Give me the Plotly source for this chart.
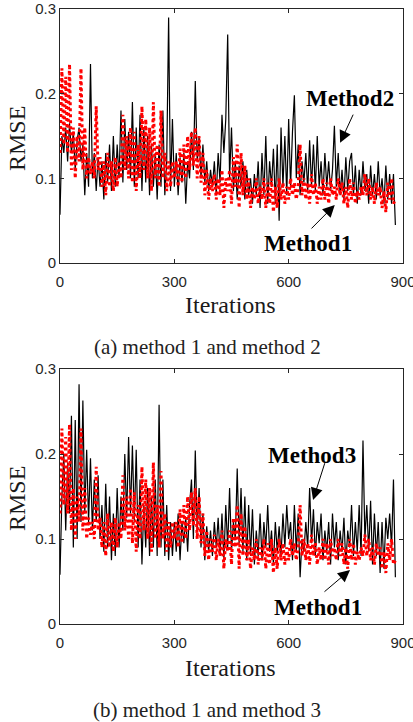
import plotly.graph_objects as go

iterations = list(range(0, 881, 5))

method2 = [
    0.057, 0.15, 0.13, 0.16, 0.12, 0.165, 0.13, 0.155, 0.11, 0.145, 0.16, 0.12, 0.14, 0.08, 0.13, 0.09, 0.235, 0.10, 0.13, 0.085,
    0.125, 0.09, 0.12, 0.075, 0.13, 0.095, 0.14, 0.085, 0.15, 0.09, 0.14, 0.10, 0.18, 0.095, 0.17, 0.11, 0.155, 0.10, 0.19, 0.09,
    0.16, 0.10, 0.175, 0.085, 0.16, 0.095, 0.15, 0.08, 0.14, 0.09, 0.13, 0.075, 0.14, 0.09, 0.18, 0.08, 0.12, 0.29, 0.085, 0.17,
    0.09, 0.13, 0.08, 0.125, 0.095, 0.13, 0.07, 0.12, 0.10, 0.155, 0.11, 0.215, 0.12, 0.15, 0.10, 0.14, 0.095, 0.12, 0.085, 0.11,
    0.09, 0.12, 0.08, 0.13, 0.095, 0.175, 0.13, 0.17, 0.27, 0.10, 0.16, 0.085, 0.12, 0.075, 0.115, 0.09, 0.12, 0.075, 0.11, 0.08,
    0.10, 0.07, 0.105, 0.08, 0.12, 0.065, 0.13, 0.08, 0.15, 0.07, 0.12, 0.09, 0.135, 0.07, 0.14, 0.05, 0.16, 0.09, 0.15, 0.08,
    0.17, 0.09, 0.155, 0.198, 0.10, 0.14, 0.08, 0.12, 0.095, 0.13, 0.085, 0.145, 0.09, 0.14, 0.085, 0.15, 0.09, 0.12, 0.08, 0.13,
    0.09, 0.12, 0.085, 0.11, 0.162, 0.09, 0.13, 0.08, 0.11, 0.075, 0.125, 0.085, 0.12, 0.13, 0.08, 0.115, 0.07, 0.11, 0.08, 0.12,
    0.085, 0.105, 0.07, 0.115, 0.08, 0.105, 0.075, 0.12, 0.08, 0.10, 0.07, 0.115, 0.075, 0.105, 0.07, 0.105, 0.045,
]

method1 = [
    0.13, 0.23, 0.14, 0.22, 0.13, 0.235, 0.11, 0.16, 0.10, 0.15, 0.12, 0.23, 0.11, 0.16, 0.10, 0.125, 0.105, 0.12, 0.10, 0.185,
    0.11, 0.125, 0.09, 0.12, 0.08, 0.13, 0.09, 0.12, 0.085, 0.125, 0.09, 0.12, 0.10, 0.175, 0.11, 0.15, 0.10, 0.16, 0.095, 0.155,
    0.085, 0.14, 0.10, 0.185, 0.11, 0.17, 0.10, 0.16, 0.085, 0.19, 0.10, 0.14, 0.09, 0.18, 0.10, 0.13, 0.085, 0.12, 0.09, 0.12,
    0.10, 0.12, 0.09, 0.135, 0.095, 0.14, 0.10, 0.15, 0.11, 0.155, 0.115, 0.16, 0.10, 0.15, 0.095, 0.13, 0.08, 0.11, 0.075, 0.10,
    0.085, 0.105, 0.075, 0.10, 0.08, 0.11, 0.065, 0.10, 0.085, 0.11, 0.07, 0.125, 0.09, 0.14, 0.065, 0.13, 0.08, 0.115, 0.075, 0.10,
    0.065, 0.09, 0.075, 0.10, 0.07, 0.09, 0.075, 0.10, 0.065, 0.095, 0.07, 0.10, 0.06, 0.09, 0.065, 0.10, 0.075, 0.095, 0.07, 0.09,
    0.075, 0.10, 0.08, 0.095, 0.075, 0.09, 0.14, 0.08, 0.10, 0.075, 0.095, 0.07, 0.105, 0.08, 0.095, 0.07, 0.09, 0.075, 0.10, 0.075,
    0.095, 0.07, 0.10, 0.08, 0.09, 0.075, 0.10, 0.08, 0.095, 0.07, 0.09, 0.065, 0.10, 0.075, 0.095, 0.07, 0.085, 0.075, 0.09, 0.08,
    0.105, 0.08, 0.10, 0.075, 0.09, 0.07, 0.095, 0.08, 0.09, 0.065, 0.085, 0.06, 0.095, 0.075, 0.10, 0.07, 0.075,
]

method3 = [
    0.058, 0.15, 0.20, 0.11, 0.19, 0.13, 0.245, 0.09, 0.24, 0.10, 0.282, 0.12, 0.263, 0.13, 0.205, 0.12, 0.195, 0.11, 0.17, 0.12,
    0.175, 0.10, 0.14, 0.085, 0.165, 0.09, 0.15, 0.075, 0.13, 0.08, 0.16, 0.09, 0.15, 0.11, 0.20, 0.125, 0.22, 0.13, 0.21, 0.12,
    0.205, 0.09, 0.17, 0.07, 0.14, 0.09, 0.16, 0.08, 0.15, 0.09, 0.17, 0.08, 0.258, 0.09, 0.17, 0.08, 0.14, 0.075, 0.12, 0.08,
    0.12, 0.085, 0.13, 0.075, 0.12, 0.095, 0.125, 0.085, 0.14, 0.17, 0.10, 0.204, 0.11, 0.16, 0.09, 0.13, 0.075, 0.115, 0.085, 0.11,
    0.08, 0.12, 0.09, 0.125, 0.08, 0.13, 0.075, 0.14, 0.09, 0.16, 0.085, 0.12, 0.10, 0.183, 0.095, 0.16, 0.085, 0.15, 0.075, 0.14,
    0.08, 0.135, 0.07, 0.11, 0.08, 0.13, 0.075, 0.12, 0.09, 0.14, 0.085, 0.11, 0.07, 0.12, 0.085, 0.115, 0.08, 0.13, 0.09, 0.14,
    0.10, 0.12, 0.075, 0.14, 0.085, 0.13, 0.055, 0.10, 0.085, 0.12, 0.09, 0.16, 0.095, 0.135, 0.08, 0.12, 0.095, 0.13, 0.075, 0.11,
    0.085, 0.12, 0.07, 0.13, 0.09, 0.12, 0.075, 0.11, 0.085, 0.125, 0.07, 0.11, 0.09, 0.14, 0.08, 0.12, 0.085, 0.14, 0.08, 0.216,
    0.10, 0.14, 0.085, 0.145, 0.07, 0.13, 0.08, 0.12, 0.06, 0.12, 0.065, 0.125, 0.10, 0.13, 0.09, 0.17, 0.055,
]

x_ticks = [0, 300, 600, 900]
y_ticks = [0, 0.1, 0.2, 0.3]
y_tick_labels = ["0", "0.1", "0.2", "0.3"]
captions = ["(a) method 1 and method 2", "(b) method 1 and method 3"]

SERIF = "Liberation Serif, Times New Roman, serif"
SANS = "Liberation Sans, Arial, sans-serif"
AXC = "#262626"

fig = go.Figure()

fig.add_trace(go.Scatter(x=iterations, y=method2, mode="lines",
                         line=dict(color="black", width=1.2), xaxis="x", yaxis="y", showlegend=False))
fig.add_trace(go.Scatter(x=iterations, y=method1, mode="lines",
                         line=dict(color="#ff0000", width=3, dash="dot"), xaxis="x", yaxis="y", showlegend=False))
fig.add_trace(go.Scatter(x=iterations, y=method3, mode="lines",
                         line=dict(color="black", width=1.2), xaxis="x2", yaxis="y2", showlegend=False))
fig.add_trace(go.Scatter(x=iterations, y=method1, mode="lines",
                         line=dict(color="#ff0000", width=3, dash="dot"), xaxis="x2", yaxis="y2", showlegend=False))

W, H = 413, 722
xdom = [60 / W, 403 / W]
ydom1 = [1 - 263 / H, 1 - 9 / H]
ydom2 = [1 - 624 / H, 1 - 369 / H]

axis_common = dict(showline=True, linecolor=AXC, linewidth=1, mirror="ticks",
                   ticks="inside", ticklen=4, tickcolor=AXC, showgrid=False, zeroline=False,
                   automargin=False, ticklabeloverflow="allow",
                   tickfont=dict(family=SANS, size=15, color=AXC))

xa = dict(axis_common, range=[0, 900], tickvals=x_ticks, domain=xdom, ticklabelstandoff=5)
ya = dict(axis_common, range=[0, 0.3], tickvals=y_ticks, ticktext=y_tick_labels)

fig.update_layout(
    width=W, height=H,
    margin=dict(l=0, r=0, t=0, b=0),
    plot_bgcolor="white", paper_bgcolor="white",
    xaxis=dict(xa, anchor="y"),
    yaxis=dict(ya, domain=ydom1, anchor="x"),
    xaxis2=dict(xa, anchor="y2"),
    yaxis2=dict(ya, domain=ydom2, anchor="x2"),
)

title_font = dict(family=SERIF, size=24, color="#1a1a1a")
label_font = dict(family=SERIF, size=23, color="black")
C = dict(xanchor="center", yanchor="middle", showarrow=False)
ann = []
# axis titles
for ycen_rmse, ycen_it in [(139, 305), (499, 668)]:
    ann.append(dict(C, x=17 / W, y=1 - ycen_rmse / H, xref="paper", yref="paper", text="RMSE",
                    textangle=-90, font=title_font))
    ann.append(dict(C, x=231 / W, y=1 - ycen_it / H, xref="paper", yref="paper", text="Iterations",
                    font=title_font))
# text labels
ann.append(dict(C, x=760, y=0.194, xref="x", yref="y", text="<b>Method2</b>", font=label_font))
ann.append(dict(C, x=651, y=0.0236, xref="x", yref="y", text="<b>Method1</b>", font=label_font))
ann.append(dict(C, x=662, y=0.1988, xref="x2", yref="y2", text="<b>Method3</b>", font=label_font))
ann.append(dict(C, x=677, y=0.020, xref="x2", yref="y2", text="<b>Method1</b>", font=label_font))
# arrows
arrow_style = dict(text="", showarrow=True, arrowhead=2, arrowsize=2.4, arrowwidth=1, arrowcolor="black")
ann.append(dict(arrow_style, x=735, y=0.142, ax=771, ay=0.177, xref="x", yref="y", axref="x", ayref="y"))
ann.append(dict(arrow_style, x=721, y=0.0685, ax=656, ay=0.0390, xref="x", yref="y", axref="x", ayref="y"))
ann.append(dict(arrow_style, x=664, y=0.146, ax=696, ay=0.191, xref="x2", yref="y2", axref="x2", ayref="y2"))
ann.append(dict(arrow_style, x=761, y=0.0635, ax=690, ay=0.0365, xref="x2", yref="y2", axref="x2", ayref="y2"))
# captions
ann.append(dict(C, x=207 / W, y=1 - 347 / H, xref="paper", yref="paper", text=captions[0],
                font=dict(family=SERIF, size=21, color="#222222")))
ann.append(dict(C, x=207 / W, y=1 - 710 / H, xref="paper", yref="paper", text=captions[1],
                font=dict(family=SERIF, size=21, color="#222222")))
fig.update_layout(annotations=ann)

fig.write_html("out.html", config={"displayModeBar": False},
               post_script="document.body.style.margin='0';")
